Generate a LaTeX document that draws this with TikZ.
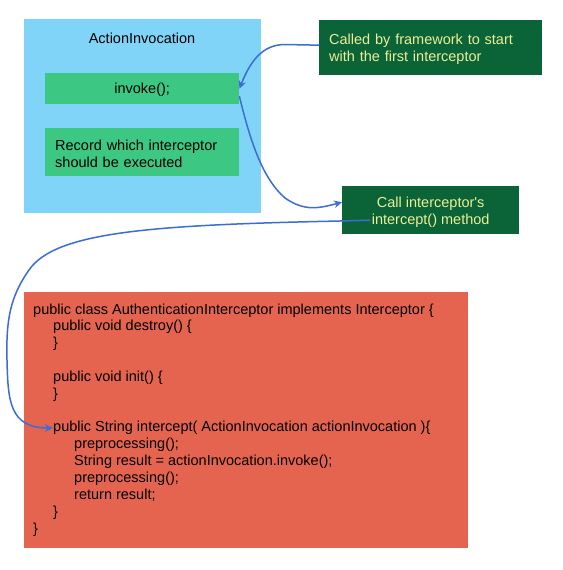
\documentclass[tikz,border=0pt]{standalone}
\usepackage{fontspec}
\setmainfont{Liberation Sans}
\usetikzlibrary{arrows.meta}
\definecolor{skyb}{RGB}{127,212,248}
\definecolor{midg}{RGB}{60,200,130}
\definecolor{darkg}{RGB}{10,100,55}
\definecolor{paley}{RGB}{238,238,150}
\definecolor{redb}{RGB}{229,100,80}
\definecolor{arrowb}{RGB}{58,110,212}
\tikzset{
  box/.style={draw=none, inner sep=0pt, anchor=north west},
  txt/.style={font=\fontsize{14.5}{17}\selectfont, inner sep=0pt},
  arr/.style={draw=arrowb, line width=1.5pt, -{Stealth[length=8pt,width=7.5pt]}},
}
\begin{document}
\begin{tikzpicture}[x=1pt,y=-1pt]
\useasboundingbox (0,0) rectangle (562,570);
\fill[white] (0,0) rectangle (562,570);
% ActionInvocation container
\node[box, fill=skyb, minimum width=237pt, minimum height=194pt] (ai) at (24,19) {};
\node[txt] (aititle) at (142,38) {ActionInvocation};
\node[box, fill=midg, minimum width=194pt, minimum height=31pt] (inv) at (45,73) {};
\node[txt] (invt) at ([yshift=-1.5pt]inv.center) {invoke();};
\node[box, fill=midg, minimum width=194pt, minimum height=48pt] (rec) at (45,128) {};
\node[txt, text width=174pt, align=left] (rect) at ([yshift=-1.5pt]rec.center) {Record which interceptor\\should be executed};
% dark green notes
\node[box, fill=darkg, minimum width=223pt, minimum height=55pt] (dg1) at (319,20) {};
\node[txt, text=paley, text width=203pt, align=left] (dg1t) at ([yshift=-2pt]dg1.center) {Called by framework to start\\with the first interceptor};
\node[box, fill=darkg, minimum width=177pt, minimum height=48pt] (dg2) at (342,186) {};
\node[txt, text=paley, align=center] (dg2t) at ([yshift=-2.5pt]dg2.center) {Call interceptor\textquotesingle s\\intercept() method};
% code box
\node[box, fill=redb, minimum width=444pt, minimum height=256pt] (code) at (24,292) {};
\node[inner sep=0pt, anchor=base west] (codetext) at (33,314) {\parbox[t]{430pt}{\fontsize{14.5}{16.85}\selectfont\raggedright
public class AuthenticationInterceptor implements Interceptor \{\\
\hspace*{20pt}public void destroy() \{\\
\hspace*{20pt}\}\\
\mbox{}\\
\hspace*{20pt}public void init() \{\\
\hspace*{20pt}\}\\
\mbox{}\\
\hspace*{20pt}public String intercept( ActionInvocation actionInvocation )\{\\
\hspace*{41pt}preprocessing();\\
\hspace*{41pt}String result = actionInvocation.invoke();\\
\hspace*{41pt}preprocessing();\\
\hspace*{41pt}return result;\\
\hspace*{20pt}\}\\
\}}};
\coordinate (tgt) at (53,428);
% connectors
\draw[arr] ([yshift=2.5pt]dg1.west) -- (285,44.5) .. controls (262,44.5) and (250,62) .. (inv.east);
\draw[arr] ([yshift=-7.5pt]inv.east) .. controls (250,140) and (262,178) .. (285,198) .. controls (305,212) and (320,208) .. ([yshift=8pt]dg2.west);
\draw[arr] ([xshift=28pt,yshift=-10pt]dg2.west) -- (340,221) .. controls (150,225) and (55,232) .. (29,270) .. controls (10,297) and (6,320) .. (7,360) .. controls (8,400) and (9,428) .. (tgt);
\end{tikzpicture}
\end{document}
